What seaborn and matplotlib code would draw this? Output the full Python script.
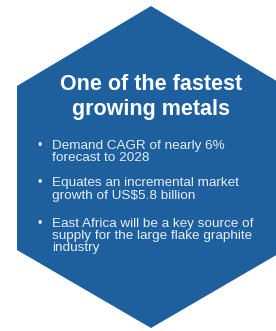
import matplotlib
matplotlib.use("Agg")
import matplotlib.pyplot as plt
import seaborn as sns

sns.set_theme(style="white")
plt.rcParams['font.family'] = ['Liberation Sans', 'DejaVu Sans']

# Hexagon outline (pixel space of the picture)
hex_x = [151, 285, 285, 151, 17, 17]
hex_y = [6, 86, 250, 328, 250, 86]

title_lines = ["One of the fastest", "growing metals"]
title_y = [84, 109]

bullets = [
    ["Demand CAGR of nearly 6%", "forecast to 2028"],
    ["Equates an incremental market", "growth of US$5.8 billion"],
    ["East Africa will be a key source of", "supply for the large flake graphite", "industry"],
]
bullet_y = [[145.5, 158], [183, 195.5], [223.5, 236, 248.5]]

fig = plt.figure(figsize=(2.76, 3.31), dpi=100)
ax = fig.add_axes([0, 0, 1, 1])
ax.set_xlim(0, 276)
ax.set_ylim(331, 0)
ax.axis('off')
fig.patch.set_facecolor('white')

ax.fill(hex_x, hex_y, color='#1e5f9e', lw=0)

for t, y in zip(title_lines, title_y):
    ax.text(151, y, t, ha='center', va='center', color='white',
            fontsize=15.5, fontweight='bold')

for lines, ys in zip(bullets, bullet_y):
    ax.text(40, ys[0], "•", ha='center', va='center', color='#e6eef8', fontsize=9)
    for t, y in zip(lines, ys):
        ax.text(52, y, t, ha='left', va='center', color='#e6eef8', fontsize=9.7)

fig.savefig("out.png", dpi=100)
